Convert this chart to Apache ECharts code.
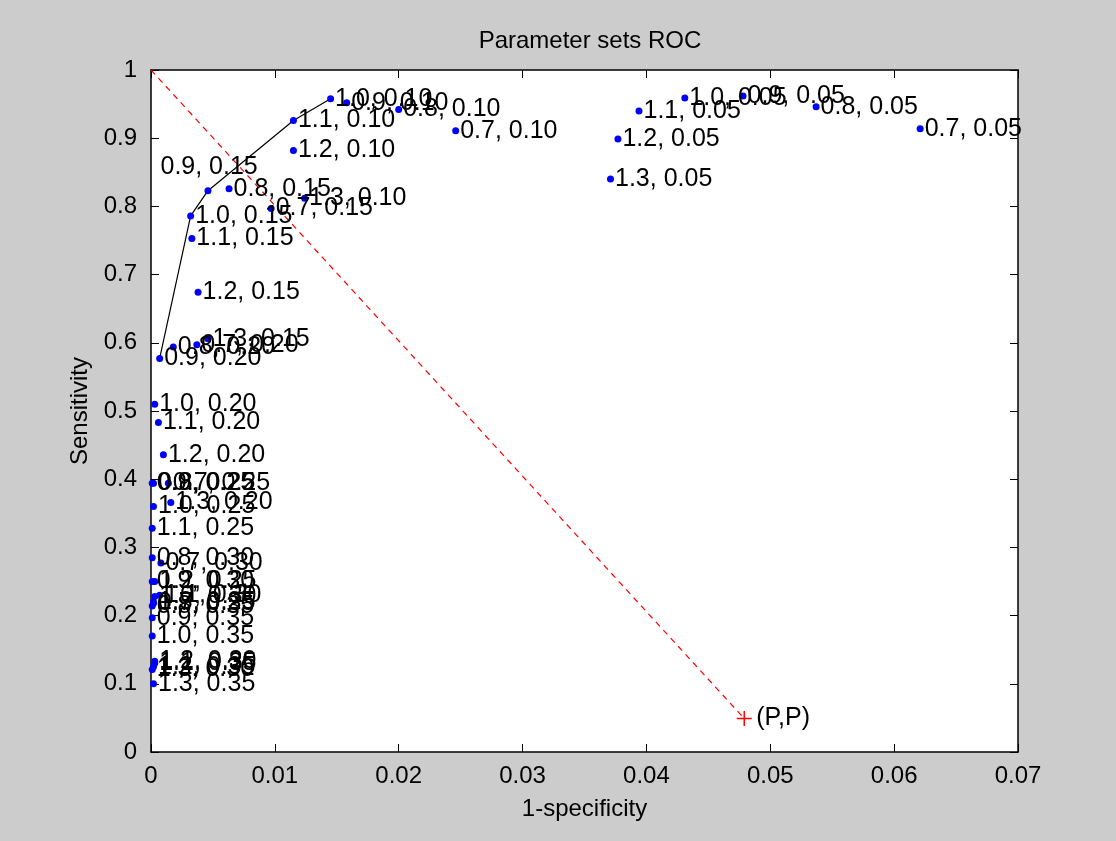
<!DOCTYPE html>
<html>
<head>
<meta charset="utf-8">
<script src="https://cdn.jsdelivr.net/npm/echarts@6/dist/echarts.min.js"></script>
<style>
  html, body { margin: 0; padding: 0; background: #cccccc; }
  #chart { width: 1116px; height: 841px; }
</style>
</head>
<body>
<div id="chart"></div>
<script>
// Parameter values (first number of each label) and thresholds (second number)
const weights = ['0.7', '0.8', '0.9', '1.0', '1.1', '1.2', '1.3'];
const thresholds = ['0.05', '0.10', '0.15', '0.20', '0.25', '0.30', '0.35'];

// 1-specificity per threshold, in the order of `weights`
const fprT05 = [0.0621, 0.0537, 0.0478, 0.0431, 0.0394, 0.0377, 0.0371];
const fprT10 = [0.0246, 0.0200, 0.0158, 0.0145, 0.0115, 0.0115, 0.0124];
const fprT15 = [0.0097, 0.0063, 0.0046, 0.0032, 0.0033, 0.0038, 0.0046];
const fprT20 = [0.0037, 0.0018, 0.0007, 0.0003, 0.0006, 0.0010, 0.0016];
const fprT25 = [0.0014, 0.0002, 0.0001, 0.0002, 0.0001, 0.0003, 0.0002];
const fprT30 = [0.0008, 0.0001, 0.0001, 0.0003, 0.0007, 0.0003, 0.0001];
const fprT35 = [0.0002, 0.0001, 0.0001, 0.0001, 0.0003, 0.0002, 0.0002];

// Sensitivity per threshold, in the order of `weights`
const tprT05 = [0.914, 0.946, 0.962, 0.959, 0.940, 0.899, 0.840];
const tprT10 = [0.911, 0.942, 0.952, 0.958, 0.926, 0.882, 0.812];
const tprT15 = [0.797, 0.826, 0.823, 0.786, 0.753, 0.674, 0.606];
const tprT20 = [0.597, 0.594, 0.577, 0.510, 0.483, 0.436, 0.366];
const tprT25 = [0.394, 0.394, 0.394, 0.360, 0.328, 0.250, 0.220];
const tprT30 = [0.277, 0.285, 0.250, 0.228, 0.230, 0.133, 0.121];
const tprT35 = [0.218, 0.214, 0.197, 0.170, 0.130, 0.125, 0.100];

const fprByThreshold = [fprT05, fprT10, fprT15, fprT20, fprT25, fprT30, fprT35];
const tprByThreshold = [tprT05, tprT10, tprT15, tprT20, tprT25, tprT30, tprT35];

// Operating points joined by the solid frontier line
const frontier = ['1.0, 0.10', '1.1, 0.10', '0.9, 0.15', '1.0, 0.15', '0.9, 0.20'];

// Reference point (P,P) and the start of the chance diagonal
const pointP = [0.0479, 0.049];
const diagonalStart = [0, 1];

const xTicks = [0, 0.01, 0.02, 0.03, 0.04, 0.05, 0.06, 0.07];
const yTicks = [0, 0.1, 0.2, 0.3, 0.4, 0.5, 0.6, 0.7, 0.8, 0.9, 1];

// ---- build the option from the arrays above ----
const lookup = {};
const points = [];
thresholds.forEach((t, ti) => {
  weights.forEach((w, wi) => {
    const name = w + ', ' + t;
    const xy = [fprByThreshold[ti][wi], tprByThreshold[ti][wi]];
    lookup[name] = xy;
    const item = { name: name, value: xy };
    if (name === '0.9, 0.15') {
      // this label sits up and to the left so the frontier line stays clear
      item.label = { offset: [-52, -24] };
    }
    points.push(item);
  });
});
const frontierData = frontier.map(n => lookup[n]);

const tickFmt = v => String(Number(v.toFixed(2)));
const axisFont = { fontFamily: "'Liberation Sans Narrow', 'Liberation Sans', Arial, sans-serif", color: '#000' };

const chart = echarts.init(document.getElementById('chart'), null, { renderer: 'canvas' });
chart.setOption({
  backgroundColor: '#cccccc',
  animation: false,
  title: {
    text: 'Parameter sets ROC',
    left: 585, top: 24, textAlign: 'center',
    textStyle: Object.assign({ fontSize: 24, fontWeight: 'normal' }, axisFont)
  },
  grid: {
    left: 151, top: 70, width: 867, height: 682,
    show: true, backgroundColor: '#ffffff', borderColor: '#000', borderWidth: 0
  },
  xAxis: [{
    type: 'value', min: xTicks[0], max: xTicks[xTicks.length - 1], interval: 0.01,
    name: '1-specificity', nameLocation: 'middle', nameGap: 45,
    nameTextStyle: Object.assign({ fontSize: 24 }, axisFont),
    axisLine: { show: true, onZero: false, lineStyle: { color: '#000', width: 1.5 } },
    axisTick: { show: true, inside: true, length: 8, lineStyle: { color: '#000' } },
    axisLabel: Object.assign({ fontSize: 24, margin: 12, formatter: tickFmt }, axisFont),
    splitLine: { show: false }
  }, {
    type: 'value', position: 'top', min: xTicks[0], max: xTicks[xTicks.length - 1], interval: 0.01,
    axisLine: { show: true, onZero: false, lineStyle: { color: '#000', width: 1.5 } },
    axisTick: { show: true, inside: true, length: 8, lineStyle: { color: '#000' } },
    axisLabel: { show: false }, splitLine: { show: false }
  }],
  yAxis: [{
    type: 'value', min: yTicks[0], max: yTicks[yTicks.length - 1], interval: 0.1,
    name: 'Sensitivity', nameLocation: 'middle', nameGap: 46, nameRotate: 90,
    nameTextStyle: Object.assign({ fontSize: 24 }, axisFont),
    axisLine: { show: true, onZero: false, lineStyle: { color: '#000', width: 1.5 } },
    axisTick: { show: true, inside: true, length: 8, lineStyle: { color: '#000' } },
    axisLabel: Object.assign({ fontSize: 24, margin: 14, formatter: tickFmt }, axisFont),
    splitLine: { show: false }
  }, {
    type: 'value', position: 'right', min: yTicks[0], max: yTicks[yTicks.length - 1], interval: 0.1,
    axisLine: { show: true, onZero: false, lineStyle: { color: '#000', width: 1.5 } },
    axisTick: { show: true, inside: true, length: 8, lineStyle: { color: '#000' } },
    axisLabel: { show: false }, splitLine: { show: false }
  }],
  series: [{
    name: 'chance',
    type: 'line',
    data: [diagonalStart, pointP],
    symbol: 'none',
    lineStyle: { color: '#ff0000', width: 1.2, type: [6, 5] },
    z: 2
  }, {
    name: 'frontier',
    type: 'line',
    data: frontierData,
    symbol: 'none',
    lineStyle: { color: '#000', width: 1.2 },
    z: 3
  }, {
    name: 'parameter sets',
    type: 'scatter',
    data: points,
    symbol: 'circle',
    symbolSize: 7,
    itemStyle: { color: '#0000ff', opacity: 1 },
    label: {
      show: true, position: 'right', distance: 1,
      formatter: p => p.name,
      fontFamily: "'Liberation Sans', Arial, sans-serif",
      fontSize: 25, color: '#000'
    },
    z: 4
  }, {
    name: 'P',
    type: 'scatter',
    data: [{ name: '(P,P)', value: pointP }],
    symbol: 'path://M10,0 L10,20 M0,10 L20,10',
    symbolSize: 15,
    itemStyle: { color: 'none', borderColor: '#ff0000', borderWidth: 1.5, opacity: 1 },
    label: {
      show: true, position: 'right', distance: 2,
      formatter: p => p.name,
      fontFamily: "'Liberation Sans', Arial, sans-serif",
      fontSize: 25, color: '#000'
    },
    z: 4
  }]
});
</script>
</body>
</html>
